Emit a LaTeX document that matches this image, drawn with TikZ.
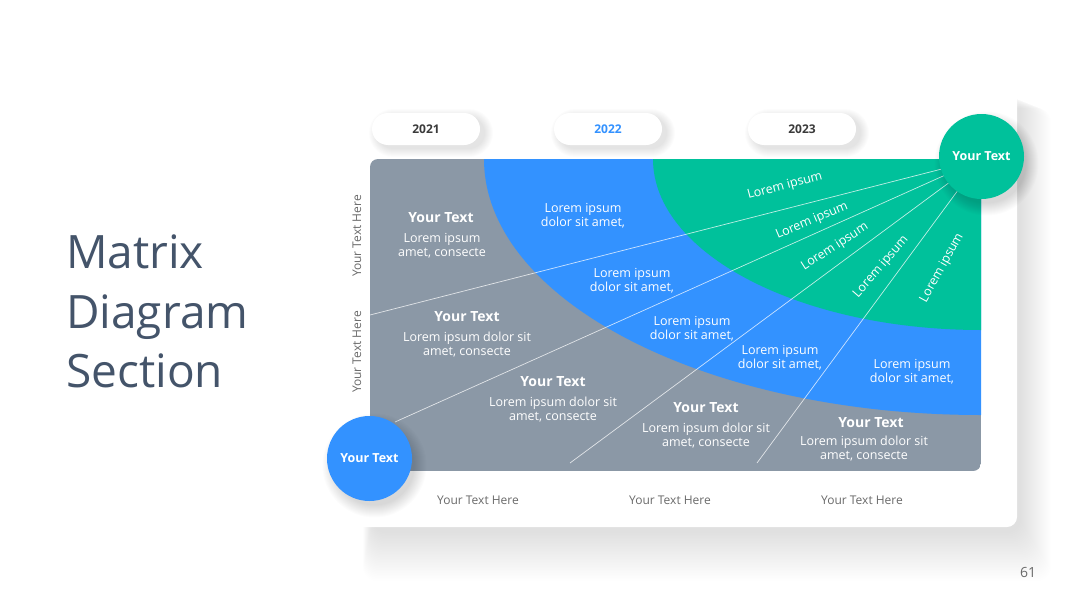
\documentclass[tikz,border=0pt]{standalone}
\usepackage{fontspec}
\setmainfont{Open Sans}
\usetikzlibrary{positioning}
\definecolor{slate}{HTML}{44546A}
\definecolor{mgray}{HTML}{8B98A6}
\definecolor{mblue}{HTML}{3392FF}
\definecolor{mgreen}{HTML}{00C19B}
\definecolor{ltext}{HTML}{6A6A6A}
\definecolor{dtext}{HTML}{3B3B3B}

\begin{document}
\begin{tikzpicture}[
  x=1pt, y=-1pt,
  shade/.style={fill=black, opacity=#1},
  pill/.style={fill=white, rounded corners=16pt, minimum width=108pt, minimum height=32pt, inner sep=0pt,
               font=\fontsize{12}{14}\selectfont\bfseries, text=dtext},
  hubc/.style={circle, minimum size=85pt, inner sep=0pt, text=white,
               font=\fontsize{12.5}{14}\selectfont\bfseries},
  ray/.style={draw=white, draw opacity=0.75, line width=0.7pt},
  hd/.style={font=\fontsize{14}{16}\selectfont\bfseries, text=white, inner sep=0pt},
  bd/.style={font=\fontsize{12.5}{14}\selectfont, text=white, align=center, inner sep=0pt},
  gl/.style={font=\fontsize{12.5}{14}\selectfont, text=white, inner sep=0pt},
  axis/.style={font=\fontsize{12}{14}\selectfont, text=ltext, inner sep=0pt},
  ttl/.style={font=\fontsize{46}{56}\selectfont, text=slate, inner sep=0pt, anchor=base west}
]
\useasboundingbox (0,0) rectangle (1080,608);
\fill[white] (0,0) rectangle (1080,608);

% title
\node[ttl] (title1) at (66,268) {Matrix};
\node[ttl] (title2) at (66,328) {Diagram};
\node[ttl] (title3) at (66,387) {Section};

% card with soft shadow
\foreach \k in {0,...,30}
  \fill[shade=0.0045, rounded corners=14pt] ({372-0.3*\k},{96+0.4*\k}) rectangle ({1021+\k},{533+1.6*\k});
\fill[white, rounded corners=10pt] (350,88) rectangle (1017,527);

% matrix
\begin{scope}
  \clip[rounded corners=8pt] (370,159) rectangle (981,471);
  \fill[mgray] (370,159) rectangle (981,471);
  \fill[mblue] (981,159) ellipse [x radius=497pt, y radius=256pt];
  \fill[mgreen] (981,159) ellipse [x radius=328pt, y radius=171pt];
  \coordinate (hub) at (981,159);
  \coordinate (r1) at (370,315);
  \coordinate (r2) at (395,422);
  \coordinate (r3) at (570,463);
  \coordinate (r4) at (757,463);
  \foreach \r in {r1,r2,r3,r4}
    \draw[ray] (hub) -- (\r);
\end{scope}

% year pills
\foreach \cx in {426,608,802}
  \foreach \k in {0,...,8}
    \fill[shade=0.01, rounded corners={(16+\k)*1pt}] ({\cx-54+5-\k},{113+4-\k}) rectangle ({\cx+54+5+\k},{145+4+\k});
\node[pill] (y2021) at (426,129) {2021};
\node[pill, text=mblue] (y2022) at (608,129) {2022};
\node[pill] (y2023) at (802,129) {2023};

% gray cells
\node[hd] (g1h) at (441,218) {Your Text};
\node[bd] (g1b) at (442,246) {Lorem ipsum\\amet, consecte};
\node[hd] (g2h) at (467,317) {Your Text};
\node[bd] (g2b) at (467,345) {Lorem ipsum dolor sit\\amet, consecte};
\node[hd] (g3h) at (553,382) {Your Text};
\node[bd] (g3b) at (553,410) {Lorem ipsum dolor sit\\amet, consecte};
\node[hd] (g4h) at (706,408) {Your Text};
\node[bd] (g4b) at (706,436) {Lorem ipsum dolor sit\\amet, consecte};
\node[hd] (g5h) at (871,423) {Your Text};
\node[bd] (g5b) at (864,449) {Lorem ipsum dolor sit\\amet, consecte};

% blue cells
\node[bd] (b1) at (583,216) {Lorem ipsum\\dolor sit amet,};
\node[bd] (b2) at (632,281) {Lorem ipsum\\dolor sit amet,};
\node[bd] (b3) at (692,329) {Lorem ipsum\\dolor sit amet,};
\node[bd] (b4) at (780,358) {Lorem ipsum\\dolor sit amet,};
\node[bd] (b5) at (912,372) {Lorem ipsum\\dolor sit amet,};

% green fan
\node[gl, rotate=15] (f1) at (785,186) {Lorem ipsum};
\node[gl, rotate=23] (f2) at (812,221) {Lorem ipsum};
\node[gl, rotate=33] (f3) at (835,247) {Lorem ipsum};
\node[gl, rotate=49] (f4) at (881,267) {Lorem ipsum};
\node[gl, rotate=61] (f5) at (942,268) {Lorem ipsum};

% corner circles
\coordinate (topc) at (981.5,156.5);
\coordinate (botc) at (369.5,458.5);
\foreach \c in {topc,botc}
  \foreach \k in {0,...,12}
    \fill[shade=0.012] ([shift={(5,7)}]\c) circle [radius={(40+\k)*1pt}];
\node[hubc, fill=mgreen] (top) at (topc) {Your Text};
\node[hubc, fill=mblue] (bottom) at (botc) {Your Text};

% axes
\node[axis, rotate=90] (ya) at (357,236) {Your Text Here};
\node[axis, rotate=90] (yb) at (357,352) {Your Text Here};
\node[axis] (xa) at (478,500) {Your Text Here};
\node[axis] (xb) at (670,500) {Your Text Here};
\node[axis] (xc) at (862,500) {Your Text Here};

\node[font=\fontsize{14}{16}\selectfont, text=ltext] (page) at (1028,572) {61};
\end{tikzpicture}
\end{document}
